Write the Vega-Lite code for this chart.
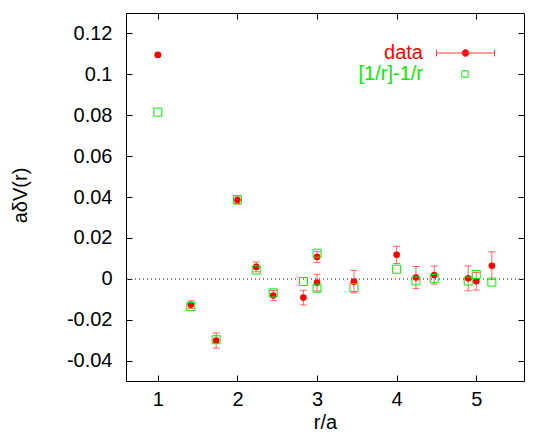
{
  "$schema": "https://vega.github.io/schema/vega-lite/v6.json",
  "width": 398,
  "height": 368,
  "autosize": {"type": "none"},
  "padding": {"left": 126, "top": 13, "right": 21, "bottom": 58},
  "background": "white",
  "config": {
    "view": {"stroke": "#000", "strokeWidth": 1},
    "font": "Liberation Sans",
    "axis": {
      "domainColor": "#000",
      "tickColor": "#000",
      "tickSize": -6,
      "grid": false,
      "labelFont": "Liberation Sans",
      "labelFontSize": 20,
      "labelColor": "#000",
      "titleFont": "Liberation Sans",
      "titleFontSize": 20,
      "titleFontWeight": "normal",
      "titleColor": "#000"
    }
  },
  "data": {
    "values": [
      {"r": 1.0, "v": 0.1095, "err": 0.0005, "fit": 0.0815},
      {"r": 1.4142, "v": -0.0127, "err": 0.0019, "fit": -0.0136},
      {"r": 1.7321, "v": -0.0302, "err": 0.0037, "fit": -0.0298},
      {"r": 2.0, "v": 0.0385, "err": 0.0020, "fit": 0.0387},
      {"r": 2.2361, "v": 0.0058, "err": 0.0024, "fit": 0.0043},
      {"r": 2.4495, "v": -0.0082, "err": 0.0025, "fit": -0.0069},
      {"r": 2.8284, "v": -0.0092, "err": 0.0036, "fit": -0.0013},
      {"r": 3.0, "v": 0.0107, "err": 0.0027, "fit": 0.0125},
      {"r": 3.0, "v": -0.0019, "err": 0.0041, "fit": -0.0046},
      {"r": 3.4641, "v": -0.0014, "err": 0.0055, "fit": -0.0043},
      {"r": 4.0, "v": 0.0117, "err": 0.0042, "fit": 0.0047},
      {"r": 4.2426, "v": 0.0006, "err": 0.0054, "fit": -0.0010},
      {"r": 4.4721, "v": 0.0018, "err": 0.0044, "fit": 0.0002},
      {"r": 4.899, "v": 0.0002, "err": 0.0061, "fit": -0.0011},
      {"r": 5.0, "v": -0.0012, "err": 0.0043, "fit": 0.0021},
      {"r": 5.1962, "v": 0.0064, "err": 0.0068, "fit": -0.0016}
    ]
  },
  "resolve": {"axis": {"x": "independent", "y": "independent"}},
  "layer": [
    {
      "mark": {"type": "rule", "color": "#888", "strokeDash": [1, 3], "strokeWidth": 1},
      "encoding": {
        "y": {"datum": 0, "type": "quantitative", "axis": null}
      }
    },
    {
      "mark": {"type": "errorbar", "ticks": {"size": 7}, "color": "#ff3030", "opacity": 0.75},
      "encoding": {
        "x": {"field": "r", "type": "quantitative", "axis": null},
        "y": {"field": "v", "type": "quantitative", "axis": null},
        "yError": {"field": "err"}
      }
    },
    {
      "mark": {"type": "circle", "size": 44, "opacity": 1},
      "encoding": {
        "x": {
          "field": "r", "type": "quantitative",
          "scale": {"domain": [0.6, 5.6], "nice": false, "zero": false},
          "axis": {"orient": "bottom", "values": [1, 2, 3, 4, 5], "title": "r/a", "labelPadding": 14, "titleY": 41, "titleBaseline": "middle"}
        },
        "y": {
          "field": "v", "type": "quantitative",
          "scale": {"domain": [-0.05, 0.13], "nice": false, "zero": false},
          "axis": {"orient": "left", "values": [-0.04, -0.02, 0, 0.02, 0.04, 0.06, 0.08, 0.1, 0.12], "labelExpr": "'' + round(datum.value*100)/100", "labelPadding": 20, "title": "aδV(r)", "titleAngle": -90, "titleX": -106, "titleY": 182, "titleAlign": "center", "titleBaseline": "middle"}
        },
        "color": {
          "datum": "data",
          "scale": {"domain": ["data"], "range": ["#ff0000"]},
          "legend": {
            "orient": "none",
            "legendX": 310,
            "legendY": 10.5,
            "title": null,
            "padding": 0,
            "symbolSize": 3364,
            "symbolType": "M-1,0H1M-1,-0.12V0.12M1,-0.12V0.12M0.12,0A0.12,0.12,0,1,1,-0.12,0A0.12,0.12,0,1,1,0.12,0Z",
            "symbolFillColor": "#ff0000",
            "symbolStrokeColor": "#ff4040",
            "symbolStrokeWidth": 1,
            "symbolOpacity": 1,
            "labelFont": "Liberation Sans",
            "labelFontSize": 20,
            "labelColor": "#ff0000",
            "labelAlign": "right",
            "labelOffset": -72,
            "labelLimit": 300
          }
        }
      }
    },
    {
      "mark": {"type": "point", "shape": "square", "filled": false, "size": 64, "strokeWidth": 1, "opacity": 1, "color": "#00ee00"},
      "encoding": {
        "x": {"field": "r", "type": "quantitative", "axis": {"orient": "top", "values": [1, 2, 3, 4, 5], "labels": false, "title": null, "domain": false}},
        "y": {"field": "fit", "type": "quantitative", "axis": {"orient": "right", "values": [-0.04, -0.02, 0, 0.02, 0.04, 0.06, 0.08, 0.1, 0.12], "labels": false, "title": null, "domain": false}},
        "shape": {
          "datum": "[1/r]-1/r",
          "scale": {"domain": ["[1/r]-1/r"], "range": ["square"]},
          "legend": {
            "orient": "none",
            "legendX": 329,
            "legendY": 51,
            "title": null,
            "padding": 0,
            "symbolSize": 40,
            "symbolType": "square",
            "symbolFillColor": "transparent",
            "symbolStrokeColor": "#00ee00",
            "symbolStrokeWidth": 1,
            "symbolOpacity": 1,
            "labelFont": "Liberation Sans",
            "labelFontSize": 20,
            "labelColor": "#00ee00",
            "labelAlign": "right",
            "labelOffset": -52,
            "labelLimit": 300
          }
        }
      }
    }
  ]
}
